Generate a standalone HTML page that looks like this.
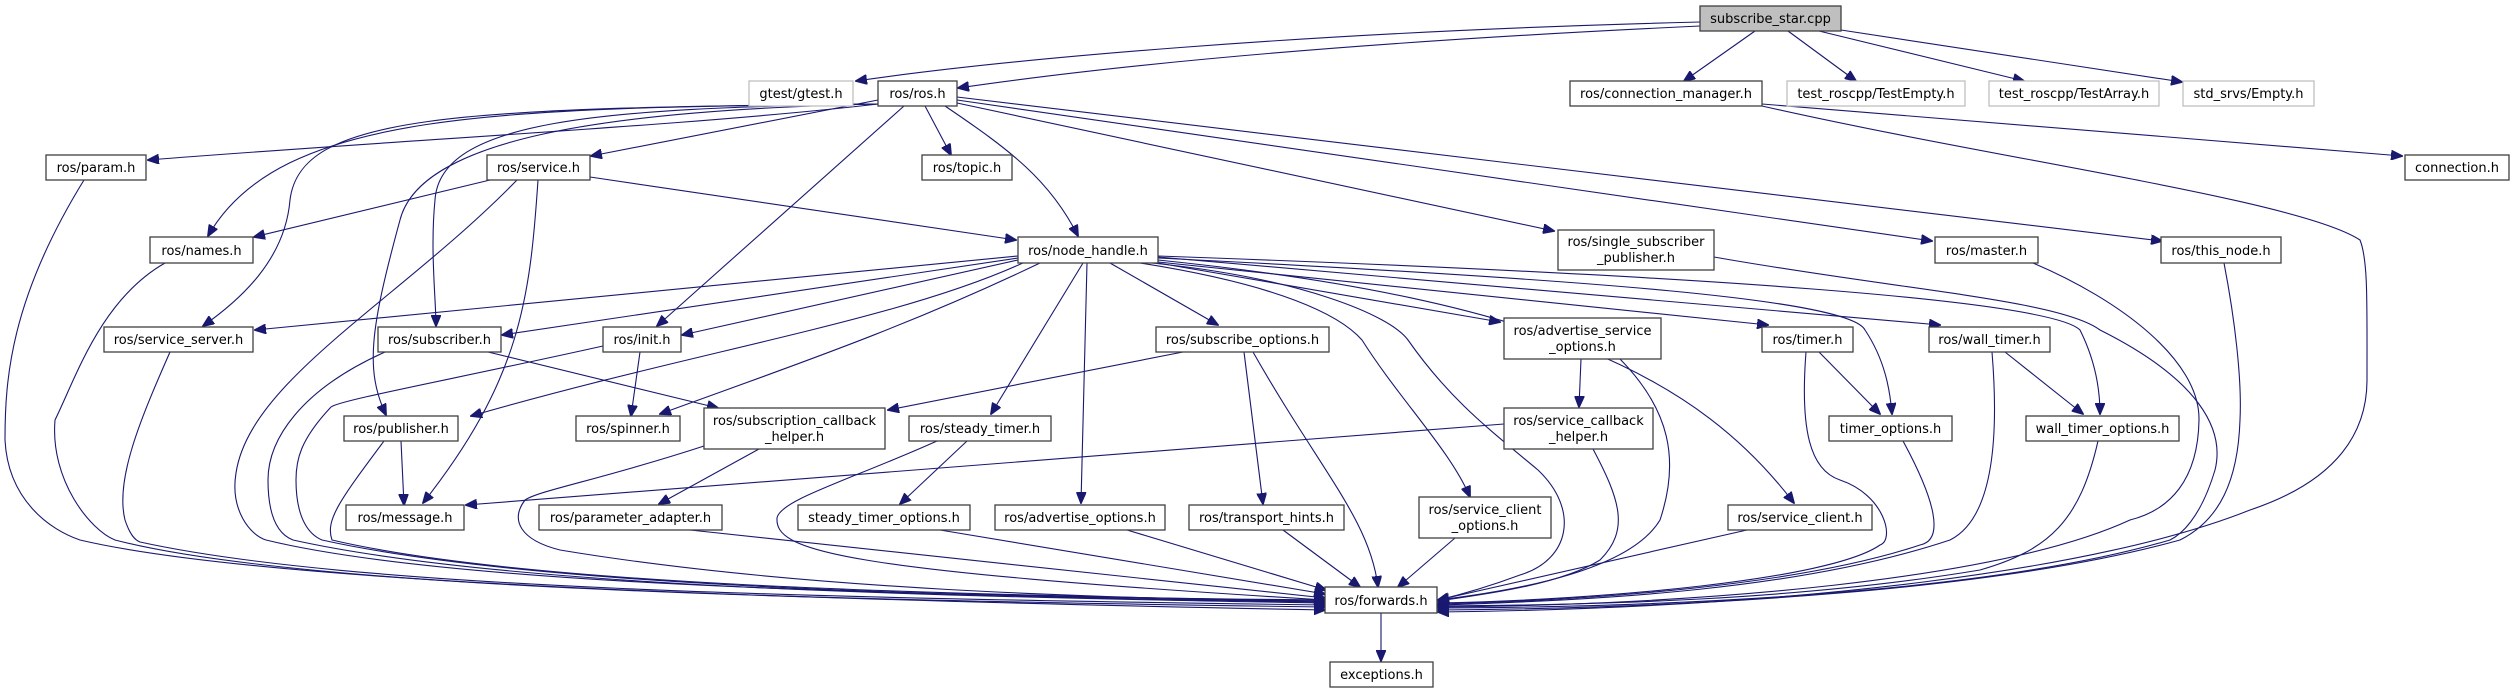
<!DOCTYPE html>
<html><head><meta charset="utf-8"><style>
html,body{margin:0;padding:0;background:#fff;}
svg{display:block;}
text{font-family:"DejaVu Sans","Liberation Sans",sans-serif;font-size:13px;fill:#000;}
.e{fill:none;stroke:#191970;stroke-width:1.1;marker-end:url(#a);}
.n{fill:#fff;stroke:#404040;stroke-width:1.3;}
.g{fill:#fff;stroke:#bfbfbf;stroke-width:1.3;}
</style></head><body>
<svg width="2515" height="693" viewBox="0 0 2515 693" xmlns="http://www.w3.org/2000/svg">
<defs><marker id="a" markerWidth="12" markerHeight="10" refX="11" refY="5" orient="auto" markerUnits="userSpaceOnUse"><path d="M0,0 L12,5 L0,10 z" fill="#191970" stroke="#191970"/></marker></defs>

<!-- edges from subscribe_star.cpp -->
<path class="e" d="M1700,22 C1300,32 1000,60 856,81"/>
<path class="e" d="M1700,26 C1400,40 1150,60 958,88"/>
<path class="e" d="M1755,31 L1684,81"/>
<path class="e" d="M1788,31 L1856,81"/>
<path class="e" d="M1819,31 L2024,81"/>
<path class="e" d="M1841,30 L2182,82"/>

<!-- ros.h -->
<path class="e" d="M878,104 C700,125 400,140 148,160"/>
<path class="e" d="M878,104 C500,108 280,110 208,236"/>
<path class="e" d="M878,104 C450,108 300,115 290,200 C285,260 240,300 203,326"/>
<path class="e" d="M878,104 C600,108 440,120 435,200 C430,250 436,300 436,326"/>
<path class="e" d="M878,104 C600,110 420,140 400,220 C370,330 365,370 386,415"/>
<path class="e" d="M878,100 L591,156"/>
<path class="e" d="M904,106 L657,326"/>
<path class="e" d="M925,106 L951,155"/>
<path class="e" d="M945,106 C1010,150 1050,180 1078,236"/>
<path class="e" d="M957,103 L1554,231"/>
<path class="e" d="M957,100 L1932,241"/>
<path class="e" d="M957,97 L2162,241"/>

<!-- service.h -->
<path class="e" d="M490,180 L254,237"/>
<path class="e" d="M590,177 L1016,240"/>
<path class="e" d="M538,180 C530,300 520,380 423,503"/>
<path class="e" d="M517,180 C400,300 250,380 236,473 C230,510 250,535 266,540 C450,585 900,596 1325,600"/>

<!-- param / names / service_server / subscriber / init / publisher -> forwards -->
<path class="e" d="M84,180 C10,300 5,380 5,440 C8,500 50,530 80,540 C250,580 700,598 1325,610"/>
<path class="e" d="M165,263 C100,300 75,380 55,420 C50,480 90,530 115,540 C300,588 800,600 1325,607"/>
<path class="e" d="M170,352 C140,420 115,480 125,520 C130,535 135,540 140,542 C350,588 800,598 1325,605"/>
<path class="e" d="M385,352 C300,390 268,440 268,480 C268,520 280,535 293,540 C500,586 900,596 1325,603"/>
<path class="e" d="M603,346 C450,380 340,400 331,407 C300,440 296,460 296,480 C296,520 310,535 322,540 C520,584 900,596 1325,602"/>
<path class="e" d="M384,441 C340,500 325,520 332,540 C520,584 900,594 1325,601"/>
<path class="e" d="M401,441 L404,505"/>

<!-- subscriber / init -->
<path class="e" d="M488,352 L718,408"/>
<path class="e" d="M640,352 L631,416"/>

<!-- node_handle -->
<path class="e" d="M1018,256 L255,330"/>
<path class="e" d="M1018,258 L502,335"/>
<path class="e" d="M1018,260 L682,335"/>
<path class="e" d="M1025,262 C900,320 700,350 471,416"/>
<path class="e" d="M1040,263 C900,330 780,370 660,414"/>
<path class="e" d="M1083,263 L991,414"/>
<path class="e" d="M1087,263 L1081,503"/>
<path class="e" d="M1110,263 L1218,325"/>
<path class="e" d="M1140,263 C1280,285 1340,315 1362,340 C1400,400 1450,450 1470,497"/>
<path class="e" d="M1152,263 C1300,278 1390,315 1408,340 C1450,400 1490,430 1538,470 C1580,510 1570,560 1520,575 C1485,588 1455,596 1438,600"/>
<path class="e" d="M1158,263 L1500,322"/>
<path class="e" d="M1158,260 C1550,300 1700,380 1794,503"/>
<path class="e" d="M1158,262 L1768,325"/>
<path class="e" d="M1158,258 C1600,280 1850,300 1865,330 C1885,360 1890,390 1892,414"/>
<path class="e" d="M1158,257 L1940,325"/>
<path class="e" d="M1158,256 C1700,275 2050,300 2080,330 C2095,360 2100,390 2100,414"/>

<!-- subscribe_options -->
<path class="e" d="M1183,352 L888,410"/>
<path class="e" d="M1244,352 L1263,504"/>
<path class="e" d="M1253,352 C1320,470 1370,520 1378,587"/>

<!-- advertise_service_options -->
<path class="e" d="M1581,359 L1579,407"/>
<path class="e" d="M1620,359 C1670,410 1680,460 1660,520 C1630,570 1520,590 1438,600"/>

<!-- timers -->
<path class="e" d="M1819,352 L1880,414"/>
<path class="e" d="M1806,352 C1800,430 1810,470 1840,480 C1885,495 1895,540 1880,545 C1830,580 1600,600 1438,603"/>
<path class="e" d="M2005,352 L2083,414"/>
<path class="e" d="M1992,352 C2000,450 1990,520 1950,540 C1800,590 1600,600 1438,605"/>
<path class="e" d="M1903,441 C1935,500 1945,540 1920,545 C1800,585 1600,600 1438,604"/>
<path class="e" d="M2098,441 C2080,520 2050,550 1980,570 C1800,600 1600,605 1438,606"/>
<path class="e" d="M1747,530 L1438,600"/>

<!-- right side long edges -->
<path class="e" d="M2033,263 C2120,300 2200,360 2199,420 C2198,480 2170,510 2130,520 C2000,580 1700,605 1438,607"/>
<path class="e" d="M1714,257 C1900,290 2060,300 2100,330 C2200,380 2225,430 2215,470 C2200,520 2180,535 2170,540 C2000,590 1700,607 1438,608"/>
<path class="e" d="M2224,263 C2235,320 2242,380 2240,420 C2238,480 2220,520 2180,540 C2000,590 1700,608 1438,610"/>
<path class="e" d="M1762,104 L2402,156"/>
<path class="e" d="M1762,106 C2000,160 2300,200 2360,240 C2368,260 2367,300 2367,380 C2367,430 2340,480 2250,510 C2100,570 1800,608 1438,612"/>

<!-- service_callback_helper -->
<path class="e" d="M1593,449 C1620,500 1630,530 1600,560 C1560,585 1480,595 1438,601"/>
<path class="e" d="M1504,424 L466,505"/>

<!-- row 7 -> forwards -->
<path class="e" d="M1455,538 L1398,587"/>
<path class="e" d="M1283,530 L1360,587"/>
<path class="e" d="M1127,530 L1326,590"/>
<path class="e" d="M940,530 L1325,594"/>
<path class="e" d="M690,530 L1325,598"/>

<!-- steady_timer / subscription_callback_helper -->
<path class="e" d="M967,441 L900,504"/>
<path class="e" d="M937,441 C850,480 780,500 777,518 C775,550 830,570 1325,600"/>
<path class="e" d="M759,449 L659,504"/>
<path class="e" d="M704,446 C600,480 540,490 525,500 C510,520 520,540 560,550 C800,590 1100,598 1325,602"/>

<!-- forwards -> exceptions -->
<path class="e" d="M1381,613 L1381,661"/>

<!-- nodes -->
<rect x="1700" y="6" width="141" height="25" fill="#bfbfbf" stroke="#404040" stroke-width="1.3"/>
<text x="1770.5" y="23" text-anchor="middle">subscribe_star.cpp</text>

<rect class="g" x="749" y="81" width="104" height="25"/><text x="801" y="98" text-anchor="middle">gtest/gtest.h</text>
<rect class="n" x="878" y="81" width="79" height="25"/><text x="917.5" y="98" text-anchor="middle">ros/ros.h</text>
<rect class="n" x="1570" y="81" width="192" height="25"/><text x="1666" y="98" text-anchor="middle">ros/connection_manager.h</text>
<rect class="g" x="1787" y="81" width="178" height="25"/><text x="1876" y="98" text-anchor="middle">test_roscpp/TestEmpty.h</text>
<rect class="g" x="1989" y="81" width="170" height="25"/><text x="2074" y="98" text-anchor="middle">test_roscpp/TestArray.h</text>
<rect class="g" x="2183" y="81" width="131" height="25"/><text x="2248.5" y="98" text-anchor="middle">std_srvs/Empty.h</text>

<rect class="n" x="46" y="155" width="100" height="25"/><text x="96" y="172" text-anchor="middle">ros/param.h</text>
<rect class="n" x="487" y="155" width="103" height="25"/><text x="538.5" y="172" text-anchor="middle">ros/service.h</text>
<rect class="n" x="922" y="155" width="90" height="25"/><text x="967" y="172" text-anchor="middle">ros/topic.h</text>
<rect class="n" x="2405" y="155" width="104" height="25"/><text x="2457" y="172" text-anchor="middle">connection.h</text>

<rect class="n" x="150" y="237" width="103" height="26"/><text x="201.5" y="255" text-anchor="middle">ros/names.h</text>
<rect class="n" x="1018" y="237" width="140" height="26"/><text x="1088" y="255" text-anchor="middle">ros/node_handle.h</text>
<rect class="n" x="1558" y="230" width="156" height="40"/><text x="1636" y="246" text-anchor="middle">ros/single_subscriber</text><text x="1636" y="262" text-anchor="middle">_publisher.h</text>
<rect class="n" x="1935" y="237" width="103" height="26"/><text x="1986.5" y="255" text-anchor="middle">ros/master.h</text>
<rect class="n" x="2161" y="237" width="120" height="26"/><text x="2221" y="255" text-anchor="middle">ros/this_node.h</text>

<rect class="n" x="104" y="327" width="149" height="25"/><text x="178.5" y="344" text-anchor="middle">ros/service_server.h</text>
<rect class="n" x="378" y="327" width="123" height="25"/><text x="439.5" y="344" text-anchor="middle">ros/subscriber.h</text>
<rect class="n" x="603" y="327" width="78" height="25"/><text x="642" y="344" text-anchor="middle">ros/init.h</text>
<rect class="n" x="1156" y="327" width="173" height="25"/><text x="1242.5" y="344" text-anchor="middle">ros/subscribe_options.h</text>
<rect class="n" x="1504" y="318" width="157" height="41"/><text x="1582.5" y="335" text-anchor="middle">ros/advertise_service</text><text x="1582.5" y="351" text-anchor="middle">_options.h</text>
<rect class="n" x="1762" y="327" width="91" height="25"/><text x="1807.5" y="344" text-anchor="middle">ros/timer.h</text>
<rect class="n" x="1929" y="327" width="121" height="25"/><text x="1989.5" y="344" text-anchor="middle">ros/wall_timer.h</text>

<rect class="n" x="344" y="416" width="114" height="25"/><text x="401" y="433" text-anchor="middle">ros/publisher.h</text>
<rect class="n" x="576" y="416" width="104" height="25"/><text x="628" y="433" text-anchor="middle">ros/spinner.h</text>
<rect class="n" x="704" y="408" width="181" height="41"/><text x="794.5" y="425" text-anchor="middle">ros/subscription_callback</text><text x="794.5" y="441" text-anchor="middle">_helper.h</text>
<rect class="n" x="909" y="416" width="142" height="25"/><text x="980" y="433" text-anchor="middle">ros/steady_timer.h</text>
<rect class="n" x="1504" y="408" width="149" height="41"/><text x="1578.5" y="425" text-anchor="middle">ros/service_callback</text><text x="1578.5" y="441" text-anchor="middle">_helper.h</text>
<rect class="n" x="1829" y="416" width="123" height="25"/><text x="1890.5" y="433" text-anchor="middle">timer_options.h</text>
<rect class="n" x="2026" y="416" width="153" height="25"/><text x="2102.5" y="433" text-anchor="middle">wall_timer_options.h</text>

<rect class="n" x="346" y="505" width="118" height="25"/><text x="405" y="522" text-anchor="middle">ros/message.h</text>
<rect class="n" x="539" y="505" width="183" height="25"/><text x="630.5" y="522" text-anchor="middle">ros/parameter_adapter.h</text>
<rect class="n" x="798" y="505" width="172" height="25"/><text x="884" y="522" text-anchor="middle">steady_timer_options.h</text>
<rect class="n" x="995" y="505" width="170" height="25"/><text x="1080" y="522" text-anchor="middle">ros/advertise_options.h</text>
<rect class="n" x="1189" y="505" width="155" height="25"/><text x="1266.5" y="522" text-anchor="middle">ros/transport_hints.h</text>
<rect class="n" x="1419" y="497" width="132" height="41"/><text x="1485" y="514" text-anchor="middle">ros/service_client</text><text x="1485" y="530" text-anchor="middle">_options.h</text>
<rect class="n" x="1728" y="505" width="144" height="25"/><text x="1800" y="522" text-anchor="middle">ros/service_client.h</text>

<rect class="n" x="1325" y="587" width="112" height="26"/><text x="1381" y="605" text-anchor="middle">ros/forwards.h</text>
<rect class="n" x="1330" y="662" width="103" height="25"/><text x="1381.5" y="679" text-anchor="middle">exceptions.h</text>
</svg>
</body></html>
